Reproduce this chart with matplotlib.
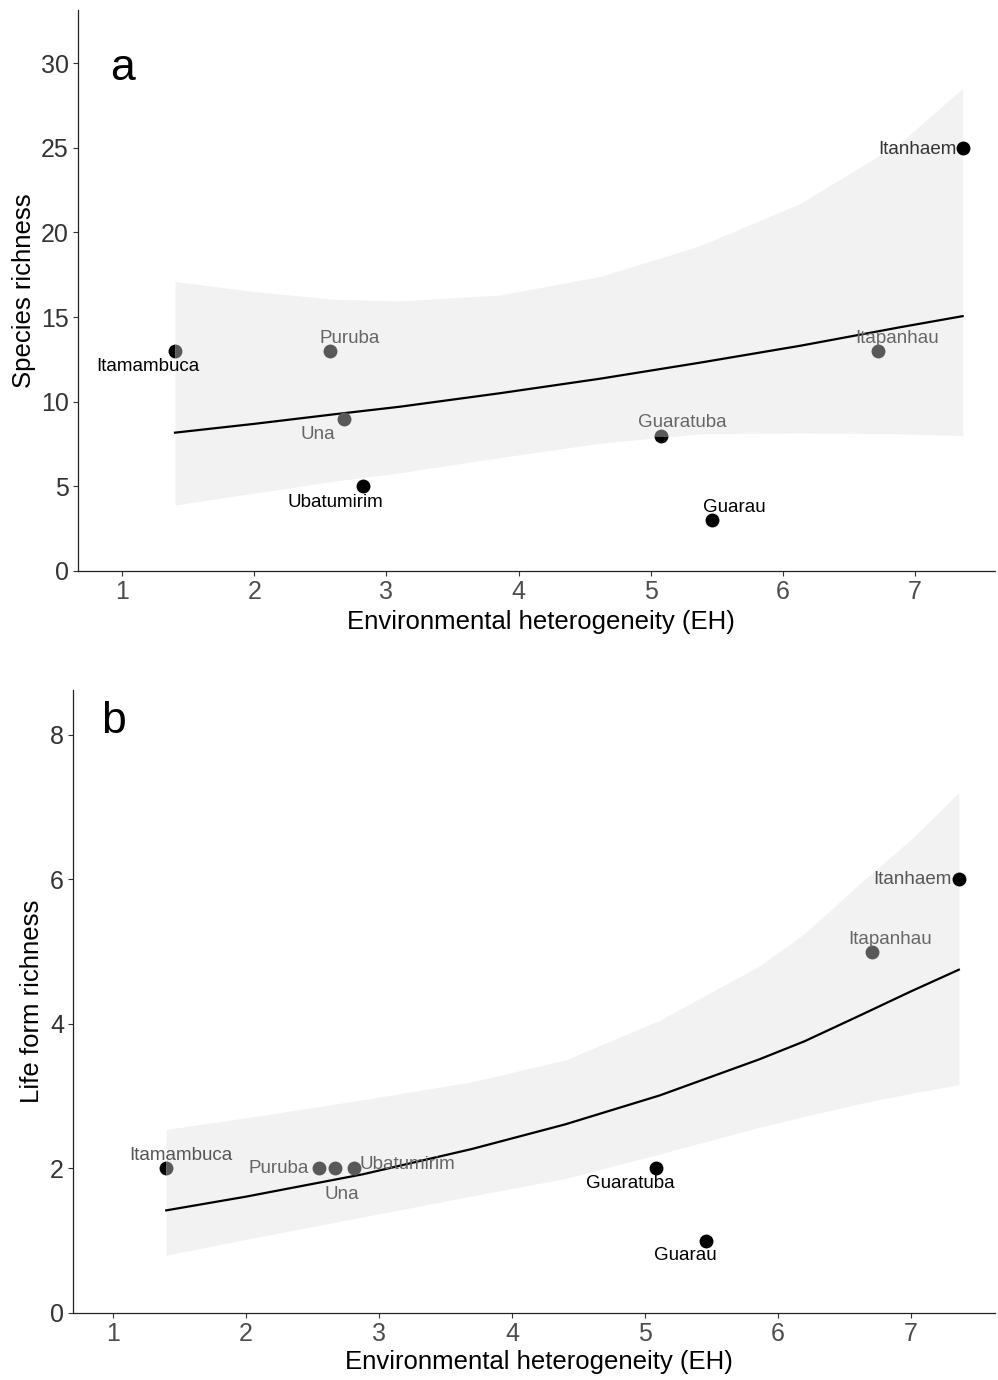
import matplotlib
matplotlib.use("Agg")
import matplotlib.pyplot as plt

plt.rcParams['font.family'] = ['Liberation Sans', 'DejaVu Sans']

sites = ["Itamambuca", "Puruba", "Una", "Ubatumirim", "Guaratuba", "Guarau", "Itapanhau", "Itanhaem"]

# panel a: species richness
eh_a = [1.40, 2.57, 2.68, 2.82, 5.08, 5.46, 6.72, 7.36]
species = [13, 13, 9, 5, 8, 3, 13, 25]
# fitted curve and confidence band
fit_x_a = [1.40, 2.0, 2.6, 3.1, 3.86, 4.62, 5.37, 6.13, 6.89, 7.36]
fit_a = [8.17, 8.69, 9.25, 9.7, 10.5, 11.36, 12.3, 13.3, 14.4, 15.05]
upper_a = [17.1, 16.5, 16.05, 15.95, 16.3, 17.4, 19.2, 21.7, 25.3, 28.5]
lower_a = [3.9, 4.6, 5.3, 5.8, 6.7, 7.55, 8.1, 8.15, 8.1, 8.0]

# panel b: life form richness
eh_b = [1.40, 2.55, 2.67, 2.81, 5.08, 5.46, 6.71, 7.36]
lifeform = [2, 2, 2, 2, 2, 1, 5, 6]
fit_x_b = [1.40, 2.0, 2.88, 3.7, 4.40, 5.11, 5.86, 6.2, 6.62, 7.0, 7.36]
fit_b = [1.42, 1.61, 1.92, 2.27, 2.61, 3.01, 3.51, 3.76, 4.12, 4.45, 4.75]
upper_b = [2.54, 2.7, 2.95, 3.2, 3.5, 4.05, 4.8, 5.25, 5.95, 6.55, 7.2]
lower_b = [0.80, 1.02, 1.33, 1.62, 1.86, 2.2, 2.57, 2.72, 2.9, 3.04, 3.16]

K = "#000000"
G = "#595959"
# point colours (main, alt half) and label colours
pt_a = [(K, G), (G, G), (G, G), (K, K), (G, K), (K, K), (G, G), (K, K)]
fill_a = ["left", "full", "full", "full", "top", "full", "full", "full"]
lab_a = [K, "#666666", "#666666", K, "#666666", K, "#666666", "#333333"]
off_a = [(-27, -16), (20, 12), (-26, -16), (-27, -16), (21, 13), (23, 13), (19, 12), (-45, -2)]

pt_b = [(K, G), (G, G), (G, G), (G, G), (K, K), (K, K), (G, G), (K, K)]
fill_b = ["left", "full", "full", "full", "full", "full", "full", "full"]
lab_b = ["#555555", "#666666", "#666666", "#666666", K, K, "#666666", "#555555"]
off_b = [(15, 13), (-40, 0), (7, -26), (54, 4), (-25, -15), (-21, -15), (18, 12), (-46, 0)]

fig = plt.figure(figsize=(9.98, 13.8), dpi=100)
ax_a = fig.add_axes([78 / 998, 1 - 571 / 1380, 917 / 998, 561 / 1380])
ax_b = fig.add_axes([73 / 998, 1 - 1313 / 1380, 922 / 998, 623 / 1380])


def panel(ax, x, y, fx, fy, lo, hi, pts, fills, labcols, offs, ylab, letter, xlim, ylim, yticks, letter_y, ylab_x, xlab_y):
    ax.fill_between(fx, lo, hi, color="#f2f2f2", lw=0, zorder=1)
    ax.plot(fx, fy, color="black", lw=1.6, zorder=2)
    for xi, yi, (c1, c2), fs in zip(x, y, pts, fills):
        ax.plot([xi], [yi], marker="o", ms=10, fillstyle=fs, markerfacecolor=c1,
                markerfacecoloralt=c2, markeredgewidth=0, ls="none", zorder=3)
    for xi, yi, name, col, (dx, dy) in zip(x, y, sites, labcols, offs):
        ax.annotate(name, (xi, yi), xytext=(dx * 0.72, dy * 0.72), textcoords="offset points",
                    ha="center", va="center", fontsize=13.5, color=col, zorder=4)
    ax.text(1.0, letter_y, letter, fontsize=32, ha="center", va="center")
    ax.set_xlim(*xlim)
    ax.set_ylim(*ylim)
    ax.set_xticks(range(1, 8))
    ax.set_yticks(yticks)
    for s in ["top", "right"]:
        ax.spines[s].set_visible(False)
    for s in ["left", "bottom"]:
        ax.spines[s].set_linewidth(0.9)
        ax.spines[s].set_color("#222222")
    ax.tick_params(direction="out", length=3.5, width=0.8, color="#333333", labelsize=18, pad=3)
    ax.tick_params(axis="x", labelcolor="#4d4d4d")
    ax.tick_params(axis="y", labelcolor="#333333")
    ax.set_xlabel("Environmental heterogeneity (EH)", fontsize=18.5)
    ax.set_ylabel(ylab, fontsize=18.5)
    ax.xaxis.set_label_coords(0.505, xlab_y)
    ax.xaxis.label.set_verticalalignment("center")
    ax.yaxis.set_label_coords(ylab_x, 0.5)
    ax.yaxis.label.set_verticalalignment("center")


panel(ax_a, eh_a, species, fit_x_a, fit_a, lower_a, upper_a, pt_a, fill_a, lab_a, off_a,
      "Species richness", "a", (0.666, 7.605), (0, 33.13), [0, 5, 10, 15, 20, 25, 30], 29.7, -0.059, -0.091)
panel(ax_b, eh_b, lifeform, fit_x_b, fit_b, lower_b, upper_b, pt_b, fill_b, lab_b, off_b,
      "Life form richness", "b", (0.699, 7.632), (0, 8.62), [0, 2, 4, 6, 8], 8.18, -0.045, -0.079)

fig.savefig("out.png", dpi=100)
